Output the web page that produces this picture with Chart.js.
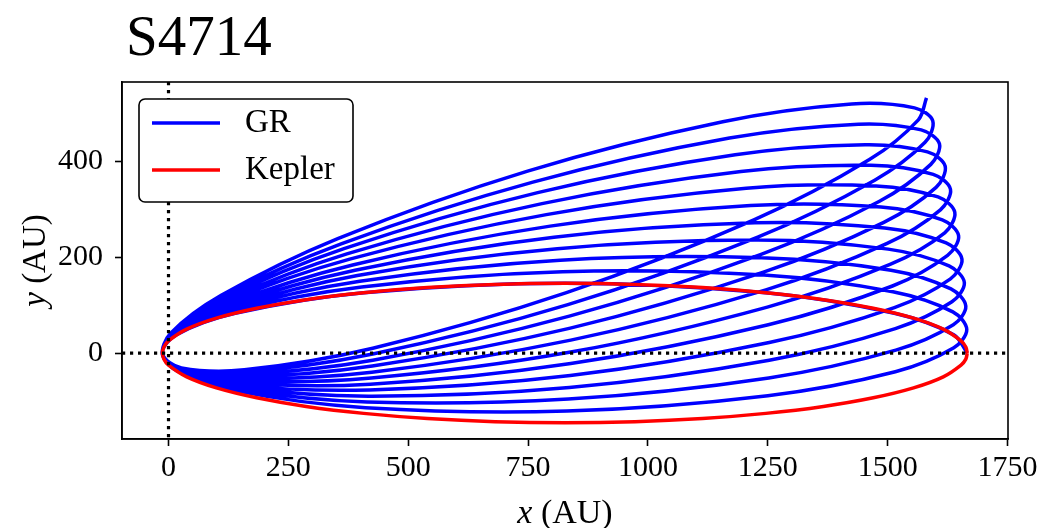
<!DOCTYPE html>
<html>
<head>
<meta charset="utf-8">
<script src="https://cdn.jsdelivr.net/npm/chart.js@4.4.0/dist/chart.umd.min.js"></script>
<style>
  html, body { margin: 0; padding: 0; background: #fff; }
  #wrap { width: 1042px; height: 528px; }
</style>
</head>
<body>
<div id="wrap"><canvas id="orbita" width="1042" height="528"></canvas></div>
<script>
const titulo = 'S4714';
const xTicks = [0, 250, 500, 750, 1000, 1250, 1500, 1750];
const yTicks = [0, 200, 400];

// Kepler orbit (red), AU
const keplerX = [1666, 1663, 1653, 1616, 1554, 1470, 1366, 1246, 1114, 973, 827, 681, 540, 407, 287, 184, 100, 38, 0, -9.5, -12.7,
                 -9.5, 0, 38, 100, 184, 287, 407, 540, 681, 827, 973, 1114, 1246, 1366, 1470, 1554, 1616, 1653, 1663, 1666];
const keplerY = [0, 12.7, 25.3, 49.8, 72.8, 93.5, 111.5, 126, 136.7, 143.3, 145.5, 143.3, 136.7, 126, 111.5, 93.5, 72.8, 49.8, 25.3, 12.7, 0,
                 -12.7, -25.3, -49.8, -72.8, -93.5, -111.5, -126, -136.7, -143.3, -145.5, -143.3, -136.7, -126, -111.5, -93.5, -72.8, -49.8, -25.3, -12.7, 0];

// GR orbit (blue), one line per half turn, AU
const grX = [
  1666, 1638, 1514, 1246, 827, 407, 139, 16, -13,
  17, 141, 411, 831, 1250, 1516, 1638, 1665,
  1636, 1511, 1242, 822, 403, 137, 15, -13,
  18, 144, 414, 834, 1252, 1517, 1637, 1663,
  1632, 1507, 1237, 817, 399, 134, 14, -13,
  19, 146, 417, 836, 1253, 1516, 1634, 1660,
  1628, 1501, 1230, 811, 394, 131, 12, -13,
  20, 148, 419, 838, 1253, 1514, 1631, 1655,
  1622, 1494, 1223, 804, 389, 128, 11, -13,
  21, 150, 421, 839, 1251, 1510, 1625, 1648,
  1614, 1486, 1214, 796, 384, 125, 10, -13,
  22, 152, 423, 839, 1249, 1505, 1619, 1640,
  1605, 1476, 1205, 788, 378, 122, 9, -13,
  23, 153, 424, 839, 1246, 1499, 1610, 1631,
  1595, 1465, 1194, 779, 372, 119, 8, -12,
  24, 155, 425, 838, 1241, 1492, 1601, 1620,
  1583, 1453, 1182, 770, 366, 116, 7, -12,
  25, 156, 426, 836, 1236, 1483, 1590, 1608,
  1570, 1439, 1170, 760, 360, 112, 5, -12,
  26, 157, 426, 833, 1229, 1473, 1578, 1594,
  1556, 1425, 1156, 749, 353, 109, 4, -12,
  27, 158, 426, 830, 1221, 1462, 1564, 1581
];
const grY = [
  0, 38, 83, 126, 146, 126, 83, 38, 0,
  -37, -79, -114, -121, -89, -39, 11, 49,
  86, 128, 163, 170, 138, 88, 38, 0,
  -37, -75, -102, -96, -52, 6, 59, 98,
  134, 173, 199, 194, 150, 92, 39, -1,
  -36, -71, -90, -72, -15, 51, 107, 147,
  182, 217, 236, 218, 162, 95, 39, -1,
  -36, -67, -77, -47, 22, 95, 155, 196,
  230, 261, 272, 242, 173, 99, 39, -1,
  -35, -62, -65, -22, 59, 140, 204, 245,
  278, 305, 308, 265, 184, 103, 40, -2,
  -34, -58, -52, 2, 96, 185, 251, 294,
  326, 349, 344, 289, 196, 107, 40, -2,
  -34, -53, -40, 27, 132, 229, 299, 342,
  373, 392, 379, 312, 207, 110, 40, -3,
  -33, -49, -27, 52, 169, 273, 346, 390,
  420, 435, 414, 335, 218, 114, 40, -3,
  -32, -44, -15, 77, 206, 317, 394, 437,
  466, 478, 449, 357, 228, 117, 41, -3,
  -31, -39, -2, 101, 242, 361, 440, 485,
  512, 520, 483, 380, 239, 120, 41, -4,
  -31, -35, 10, 126, 278, 404, 487, 533
];

const serif = '"Liberation Serif", "Times New Roman", serif';
Chart.defaults.font.family = serif;
Chart.defaults.color = '#000';

const grPts = grX.map((x, i) => ({ x: x, y: grY[i] }));
const kepPts = keplerX.map((x, i) => ({ x: x, y: keplerY[i] }));

function caixa(ctx, x, y, w, h, r) {
  ctx.beginPath();
  ctx.moveTo(x + r, y);
  ctx.arcTo(x + w, y, x + w, y + h, r);
  ctx.arcTo(x + w, y + h, x, y + h, r);
  ctx.arcTo(x, y + h, x, y, r);
  ctx.arcTo(x, y, x + w, y, r);
  ctx.closePath();
}

// italic variable + upright unit
function rotulo(ctx, v, resto, cx, base, size) {
  ctx.font = 'italic ' + size + 'px ' + serif;
  const w1 = ctx.measureText(v).width;
  ctx.font = size + 'px ' + serif;
  const w2 = ctx.measureText(resto).width;
  const x0 = cx - (w1 + w2) / 2;
  ctx.textAlign = 'left';
  ctx.textBaseline = 'alphabetic';
  ctx.font = 'italic ' + size + 'px ' + serif;
  ctx.fillText(v, x0, base);
  ctx.font = size + 'px ' + serif;
  ctx.fillText(resto, x0 + w1, base);
}

const extras = {
  id: 'extras',
  afterDatasetsDraw(chart) {
    const { ctx, chartArea: a, scales: { x, y } } = chart;
    const x0 = x.getPixelForValue(0);
    const y0 = y.getPixelForValue(0);
    ctx.save();

    // dotted lines at zero
    ctx.strokeStyle = '#000';
    ctx.lineWidth = 3.2;
    ctx.setLineDash([3.2, 4.8]);
    ctx.beginPath();
    ctx.moveTo(a.left, y0); ctx.lineTo(a.right, y0);
    ctx.moveTo(x0, a.top); ctx.lineTo(x0, a.bottom);
    ctx.stroke();
    ctx.setLineDash([]);

    // frame
    ctx.lineWidth = 1.6;
    ctx.strokeRect(a.left, a.top, a.right - a.left, a.bottom - a.top);

    // legend
    const lx = a.left + 17, ly = a.top + 17;
    caixa(ctx, lx, ly, 214, 103, 6);
    ctx.fillStyle = '#fff';
    ctx.fill();
    ctx.lineWidth = 1.6;
    ctx.strokeStyle = '#000';
    ctx.stroke();
    chart.data.datasets.forEach((ds, i) => {
      const yy = ly + 24 + i * 47;
      ctx.strokeStyle = ds.borderColor;
      ctx.lineWidth = 3.5;
      ctx.beginPath();
      ctx.moveTo(lx + 13, yy);
      ctx.lineTo(lx + 81, yy);
      ctx.stroke();
      ctx.fillStyle = '#000';
      ctx.font = '33px ' + serif;
      ctx.textAlign = 'left';
      ctx.textBaseline = 'middle';
      ctx.fillText(ds.label, lx + 106, yy);
    });
    ctx.restore();
  },
  afterDraw(chart) {
    const { ctx, chartArea: a } = chart;
    ctx.save();
    ctx.fillStyle = '#000';
    ctx.font = '57px ' + serif;
    ctx.textAlign = 'left';
    ctx.textBaseline = 'alphabetic';
    ctx.fillText(titulo, 126, 55);

    rotulo(ctx, 'x', ' (AU)', (a.left + a.right) / 2, 523, 34);

    ctx.translate(45, (a.top + a.bottom) / 2);
    ctx.rotate(-Math.PI / 2);
    rotulo(ctx, 'y', ' (AU)', 0, 0, 33);
    ctx.restore();
  }
};

new Chart(document.getElementById('orbita'), {
  type: 'scatter',
  data: {
    datasets: [
      {
        label: 'GR',
        data: grPts,
        showLine: true,
        borderColor: '#0000ff',
        borderWidth: 3.5,
        pointRadius: 0,
        tension: 0.33,
        borderJoinStyle: 'round',
        order: 2
      },
      {
        label: 'Kepler',
        data: kepPts,
        showLine: true,
        borderColor: '#ff0000',
        borderWidth: 3.5,
        pointRadius: 0,
        tension: 0.33,
        borderJoinStyle: 'round',
        order: 1
      }
    ]
  },
  options: {
    responsive: false,
    animation: false,
    layout: { padding: { left: 0, right: 34, top: 82, bottom: 0 } },
    plugins: {
      legend: { display: false },
      tooltip: { enabled: false }
    },
    scales: {
      x: {
        type: 'linear',
        min: -97,
        max: 1751,
        afterFit: (s) => { s.height = 89; },
        afterBuildTicks: (s) => { s.ticks = xTicks.map(v => ({ value: v })); },
        grid: { drawOnChartArea: false, drawTicks: true, tickLength: 7, tickWidth: 1.6, tickColor: '#000' },
        border: { display: true, color: '#000', width: 1.6 },
        ticks: { font: { size: 30 }, padding: 4, maxRotation: 0, autoSkip: false, callback: (v) => String(v) }
      },
      y: {
        type: 'linear',
        min: -179.5,
        max: 566,
        afterFit: (s) => { s.width = 122; },
        afterBuildTicks: (s) => { s.ticks = yTicks.map(v => ({ value: v })); },
        grid: { drawOnChartArea: false, drawTicks: true, tickLength: 7, tickWidth: 1.6, tickColor: '#000' },
        border: { display: true, color: '#000', width: 1.6 },
        ticks: { font: { size: 30 }, padding: 12, autoSkip: false, callback: (v) => String(v) }
      }
    }
  },
  plugins: [extras]
});
</script>
</body>
</html>
